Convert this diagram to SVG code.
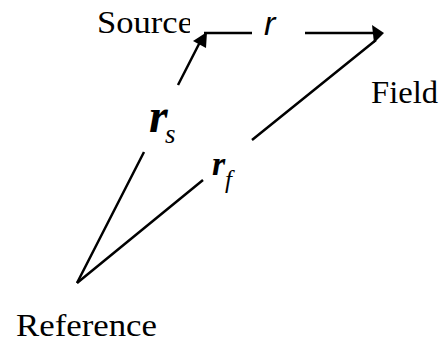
<svg xmlns="http://www.w3.org/2000/svg" width="444" height="343" viewBox="0 0 444 343">
<style>
.ln{stroke:#000;stroke-width:2.5;fill:none;stroke-linecap:butt}
.hd{fill:#000;stroke:none}
.lbl{font-family:"Liberation Serif","Times New Roman",serif;font-size:32px;fill:#000}
.bi{font-family:"Liberation Serif","Times New Roman",serif;font-style:italic;font-weight:bold;fill:#000}
.it{font-family:"Liberation Serif","Times New Roman",serif;font-style:italic;fill:#000}
</style>
<defs>
<clipPath id="srcclip"><rect x="0" y="0" width="190" height="60"/></clipPath>
</defs>
<rect width="444" height="343" fill="#fff"/>
<g id="connectors">
<path class="ln" d="M77,283 L144,152 M178,85 L200,42"/>
<path class="ln" d="M77,283 L203,180 M252,140 L376,40"/>
<path class="ln" d="M204,33 L252,33 M305,33 L374,33"/>
<polygon class="hd" points="193,41 207,32 206,48"/>
<polygon class="hd" points="372,25 384,33 374,43"/>
<text class="bi" x="149" y="132" font-size="48">r</text>
<text class="it" x="165" y="143" font-size="27">s</text>
<text class="bi" x="212" y="175" font-size="34">r</text>
<text class="it" x="225" y="188" font-size="25">f</text>
<text x="264" y="35" font-family="Liberation Sans, Arial, sans-serif" font-style="italic" font-size="34">r</text>
</g>
<g id="source"><text class="lbl" x="97" y="33" textLength="96" lengthAdjust="spacingAndGlyphs" clip-path="url(#srcclip)">Source</text></g>
<g id="field"><text class="lbl" x="371" y="103" textLength="67" lengthAdjust="spacingAndGlyphs">Field</text></g>
<g id="reference"><text class="lbl" x="16" y="336" textLength="141" lengthAdjust="spacingAndGlyphs">Reference</text></g>
</svg>
